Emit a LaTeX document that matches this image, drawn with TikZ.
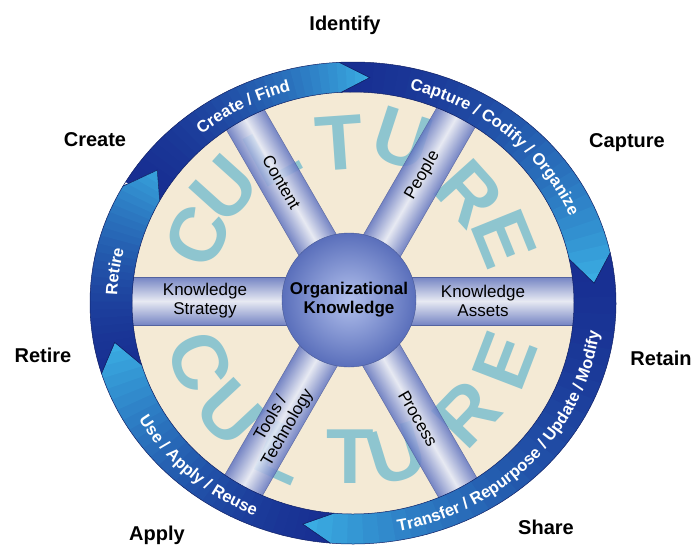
\documentclass[tikz,border=0pt]{standalone}
\usepackage{fontspec}
\setmainfont{Liberation Sans}
\usetikzlibrary{decorations.text}

\definecolor{ringdark}{HTML}{182F92}
\definecolor{ringlight}{HTML}{3AACE2}
\definecolor{beige}{HTML}{F4EAD5}
\definecolor{culture}{HTML}{8EC5CF}
\definecolor{spokeedge}{HTML}{6477C2}
\definecolor{spokelight}{HTML}{E6EAF7}
\definecolor{hubin}{HTML}{B2C0EC}
\definecolor{hubout}{HTML}{5A6FBB}

\newcommand{\ringfont}{\fontsize{16.5}{16.5}\selectfont\bfseries}

% one arrow piece of the ring, from angle #1 clockwise to angle #2
\newcommand{\segshape}[2]{(#1:263 and 241) arc[start angle=#1, end angle=#2, x radius=263, y radius=241] -- ({#2-7}:242 and 226) -- (#2:221 and 211) arc[start angle=#2, end angle=#1, x radius=221, y radius=211] -- ({#1-7}:242 and 226) -- cycle}
\newcommand{\ringseg}[2]{%
  \begin{scope}
    \clip \segshape{#1}{#2};
    \foreach \k in {0,...,29} {
      \pgfmathsetmacro{\ta}{#1+1-\k*(#1-#2+9)/30}
      \pgfmathsetmacro{\tb}{#1+0.6-(\k+1)*(#1-#2+9)/30}
      \pgfmathsetmacro{\p}{100*(\k/29)^1.7}
      \fill[ringlight!\p!ringdark] (0,0) -- (\ta:300) -- (\tb:300) -- cycle;
    }
  \end{scope}
  \draw[ringdark!70!black, line width=0.5] \segshape{#1}{#2};
}

\begin{document}
\begin{tikzpicture}[x=1pt, y=1pt,
  stage/.style={font=\fontsize{20}{22}\selectfont\bfseries},
  spoketext/.style={font=\fontsize{17}{19}\selectfont, align=center},
  spoke/.style={draw=spokeedge!80!black, line width=0.4, top color=spokeedge, bottom color=spokeedge, middle color=spokelight, opacity=0.88},
  letter/.style={font=\fontsize{78}{78}\selectfont\bfseries, text=culture, inner sep=0},
  ringtext/.style={decorate, decoration={text along path, text align=center, text color=white}}]

\useasboundingbox (-350,-249) rectangle (348,301);

% background disc
\fill[beige, shift={(3,-2)}] (0,0) ellipse [x radius=223, y radius=213];

% CULTURE, upper half
\node[letter, rotate=67] (cu1) at (157:165) {C};
\node[letter, rotate=48] (cu2) at (138:168) {U};
\node[letter, rotate=28] (cu3) at (118:166) {L};
\node[letter, rotate=4] (cu4) at (94:158) {T};
\node[letter, rotate=-18] (cu5) at (72:170) {U};
\node[letter, rotate=-48] (cu6) at (42:160) {R};
\node[letter, rotate=-68] (cu7) at (22:166) {E};
% CULTURE, lower half
\node[letter, rotate=-68] (cl1) at (-158:162) {C};
\node[letter, rotate=-47] (cl2) at (-137:164) {U};
\node[letter, rotate=-24] (cl3) at (-114:166) {L};
\node[letter, rotate=0] (cl4) at (-90:156) {T};
\node[letter, rotate=17] (cl5) at (-73:160) {U};
\node[letter, rotate=46] (cl6) at (-44:162) {R};
\node[letter, rotate=69] (cl7) at (-21:166) {E};

% spokes
\begin{scope}
  \clip[shift={(3,-2)}] (0,0) ellipse [x radius=223, y radius=213];
  \begin{scope}[transform canvas={rotate=60}]
    \path[spoke] (-240,-21.5) rectangle (240,21.5);
  \end{scope}
  \begin{scope}[transform canvas={rotate=120}]
    \path[spoke] (-240,-21.5) rectangle (240,21.5);
  \end{scope}
  \path[spoke] (-240,-24) rectangle (240,24);
\end{scope}

% hub
\node[circle, minimum size=134, inner sep=0, inner color=hubin, outer color=hubout, draw=hubout!80!black, line width=0.4, font=\fontsize{17}{19}\selectfont\bfseries, align=center] (hub) at (-1,1) {Organizational\\Knowledge};

\node[spoketext] (strategy) at (180:145) {Knowledge\\Strategy};
\node[spoketext] (assets) at (0:133) {Knowledge\\Assets};
\node[spoketext, rotate=-60] (content) at (120:137) {Content};
\node[spoketext, rotate=60] (people) at (60:145) {People};
\node[spoketext, rotate=60] (tools) at (240:141) {Tools /\\Technology};
\node[spoketext, rotate=-60] (process) at (300:136) {Process};

% ring
\begin{scope}[shift={(3,-2)}]
  \ringseg{151}{93}
  \ringseg{93}{12}
  \ringseg{12}{-95}
  \ringseg{-95}{-163}
  \ringseg{197}{151}
  \path[ringtext, decoration={text={|\ringfont|Create / Find}}] (152:236 and 220) arc[start angle=152, end angle=84, x radius=236, y radius=220];
  \path[ringtext, decoration={text={|\ringfont|Capture / Codify / Organize}}] (96:236 and 220) arc[start angle=96, end angle=2, x radius=236, y radius=220];
  \path[ringtext, decoration={text={|\ringfont|Transfer / Repurpose / Update / Modify}}] (-88:248 and 232) arc[start angle=-88, end angle=2, x radius=248, y radius=232];
  \path[ringtext, decoration={text={|\ringfont|Use / Apply / Reuse}}] (-166:248 and 232) arc[start angle=-166, end angle=-98, x radius=248, y radius=232];
  \path[ringtext, decoration={text={|\ringfont|Retire}}] (192:236 and 220) arc[start angle=192, end angle=152, x radius=236, y radius=220];
\end{scope}

% stages
\node[stage] (identify) at (-5,276) {Identify};
\node[stage] (create) at (-255,161) {Create};
\node[stage] (capture) at (277,158) {Capture};
\node[stage] (retain) at (311,-57) {Retain};
\node[stage] (share) at (196,-226) {Share};
\node[stage] (apply) at (-193,-234) {Apply};
\node[stage] (retire) at (-307,-54) {Retire};
\end{tikzpicture}
\end{document}
